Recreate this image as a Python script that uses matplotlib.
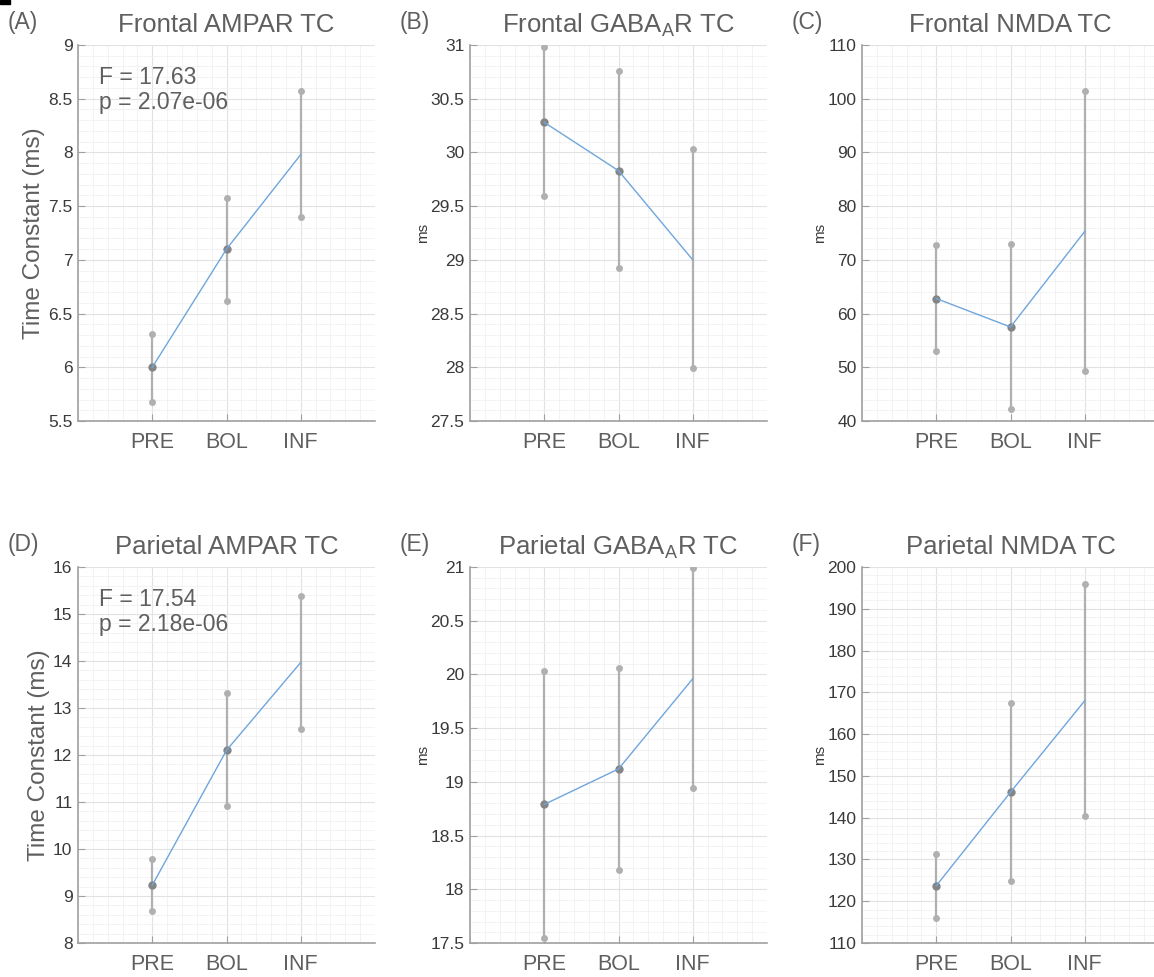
import numpy as np
import matplotlib.pyplot as plt
from matplotlib.patches import Rectangle
from matplotlib.ticker import MultipleLocator

plt.rcParams['font.family'] = ['Liberation Sans', 'DejaVu Sans']

conds = ["PRE", "BOL", "INF"]

# mean, lower, upper for each condition
a_mean = [6.00, 7.10, 7.98]
a_low = [5.68, 6.62, 7.40]
a_high = [6.31, 7.58, 8.57]

b_mean = [30.28, 29.83, 29.00]
b_low = [29.59, 28.92, 27.99]
b_high = [30.98, 30.76, 30.03]

c_mean = [62.8, 57.5, 75.3]
c_low = [53.0, 42.3, 49.3]
c_high = [72.7, 72.9, 101.4]

d_mean = [9.23, 12.10, 13.97]
d_low = [8.68, 10.91, 12.55]
d_high = [9.78, 13.31, 15.38]

e_mean = [18.79, 19.12, 19.96]
e_low = [17.55, 18.18, 18.94]
e_high = [20.03, 20.06, 20.99]

f_mean = [123.7, 146.1, 168.0]
f_low = [116.0, 124.8, 140.3]
f_high = [131.3, 167.4, 196.0]

panels = [
    ("(A)", "Frontal AMPAR TC", a_mean, a_low, a_high, (5.5, 9), 0.5, "F = 17.63\np = 2.07e-06"),
    ("(B)", "Frontal GABA$_\\mathregular{A}$R TC", b_mean, b_low, b_high, (27.5, 31), 0.5, None),
    ("(C)", "Frontal NMDA TC", c_mean, c_low, c_high, (40, 110), 10, None),
    ("(D)", "Parietal AMPAR TC", d_mean, d_low, d_high, (8, 16), 1, "F = 17.54\np = 2.18e-06"),
    ("(E)", "Parietal GABA$_\\mathregular{A}$R TC", e_mean, e_low, e_high, (17.5, 21), 0.5, None),
    ("(F)", "Parietal NMDA TC", f_mean, f_low, f_high, (110, 200), 10, None),
]

W, H = 1154, 977
fig = plt.figure(figsize=(W / 100, H / 100), dpi=100)

lefts = [78, 470, 862]
tops = [45, 567]
aw, ah = 297, 376

text_col = "#5f5f5f"
tick_col = "#3a3a3a"
bar_col = "#b0b0b0"
mean_col = "#858585"

x = np.arange(1, 4)

for i, (lab, title, m, lo, hi, ylim, step, stats) in enumerate(panels):
    r, c = divmod(i, 3)
    l = lefts[c]
    t = tops[r]
    ax = fig.add_axes([l / W, 1 - (t + ah) / H, aw / W, ah / H])

    ax.set_xlim(0, 4)
    ax.set_ylim(*ylim)
    ax.set_xticks(x)
    ax.set_xticklabels(conds)
    ax.yaxis.set_major_locator(MultipleLocator(step))
    ax.yaxis.set_minor_locator(MultipleLocator(step / 5))
    ax.xaxis.set_minor_locator(MultipleLocator(0.2))
    ax.yaxis.set_major_formatter(plt.FuncFormatter(lambda v, p: f"{v:g}"))

    ax.grid(True, which="major", color="#e2e2e2", lw=0.8)
    ax.grid(True, which="minor", color="#f1f1f1", lw=0.6)
    ax.set_axisbelow(True)

    for s in ["top", "right"]:
        ax.spines[s].set_visible(False)
    for s in ["left", "bottom"]:
        ax.spines[s].set_color("#a0a0a0")
        ax.spines[s].set_linewidth(1.2)

    ax.tick_params(which="major", direction="in", length=5, color="#a0a0a0")
    ax.tick_params(which="minor", length=0)
    ax.tick_params(axis="x", labelsize=15.5, labelcolor=text_col, pad=8)
    ax.tick_params(axis="y", labelsize=12.5, labelcolor=tick_col, pad=4)

    # error bars (range) with end markers
    ax.vlines(x, lo, hi, color=bar_col, lw=1.6, zorder=2)
    ax.plot(x, lo, "o", color=bar_col, ms=5, mec="none", zorder=3)
    ax.plot(x, hi, "o", color=bar_col, ms=5, mec="none", zorder=3)
    ax.plot(x[:2], m[:2], "o", color=mean_col, ms=6, mec="none", zorder=3)
    ax.plot(x, m, color="#6fa6dc", lw=1.0, zorder=4)

    ax.set_title(title, fontsize=18.5, color=text_col, pad=9)
    fig.text((l - 70) / W, 1 - (t - 23) / H, lab, fontsize=16.5, color=text_col,
             va="center", ha="left")

    if c == 0:
        ax.set_ylabel("Time Constant (ms)", fontsize=17.5, color=text_col, labelpad=2)
    else:
        ax.set_ylabel("ms", fontsize=11, color=tick_col, labelpad=0)

    if stats:
        ax.text(0.07, 0.945, stats, transform=ax.transAxes, fontsize=16.5,
                color=text_col, va="top", ha="left", linespacing=1.15)

# small dark mark at top-left corner of the source figure
fig.patches.append(Rectangle((0, 1 - 4 / H), 10 / W, 4 / H, transform=fig.transFigure,
                             color="black", zorder=10))

fig.savefig("out.png", dpi=100, facecolor="white")
